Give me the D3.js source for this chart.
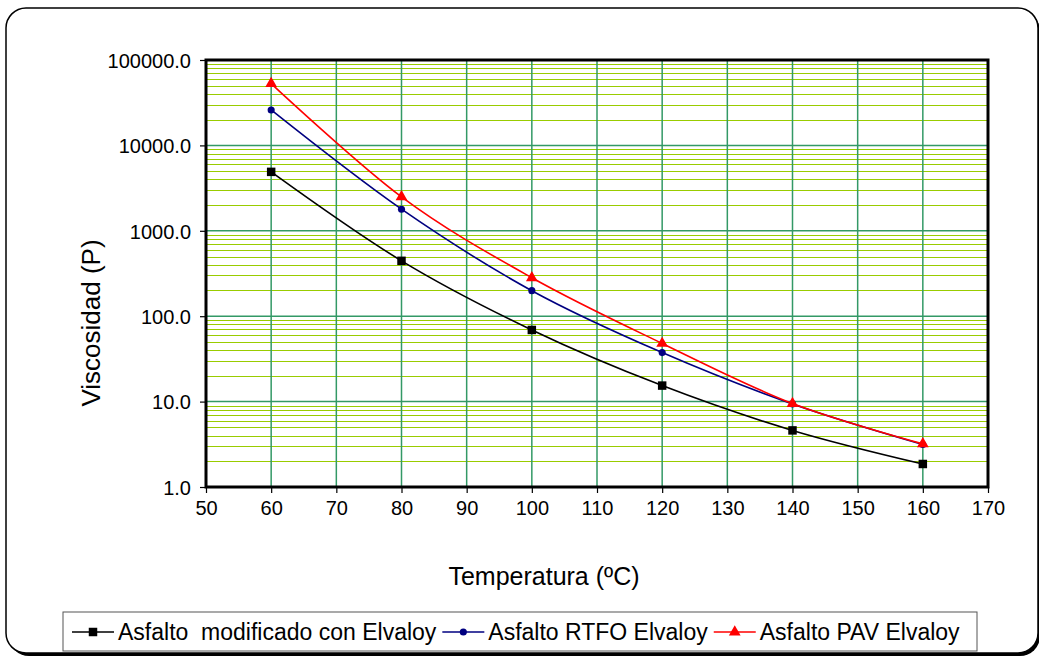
<!DOCTYPE html>
<html>
<head>
<meta charset="utf-8">
<script src="https://cdn.jsdelivr.net/npm/d3@7"></script>
<style>
  body { margin: 0; background: #fff; }
  svg { display: block; font-family: "Liberation Sans", Arial, sans-serif; }
</style>
</head>
<body>
<div id="chart"></div>
<script>
// Temperatures (x) and viscosities (P)
const temps = [60, 80, 100, 120, 140, 160];
const modificado = [4900, 445, 69, 15.4, 4.6, 1.86];
const rtfo = [26000, 1790, 199, 37.5, 9.4, 3.15];
const pav = [53000, 2500, 282, 48, 9.5, 3.2];

const seriesNames = ["Asfalto  modificado con Elvaloy", "Asfalto RTFO Elvaloy", "Asfalto PAV Elvaloy"];
const xTicks = [50, 60, 70, 80, 90, 100, 110, 120, 130, 140, 150, 160, 170];
const yTicks = [1, 10, 100, 1000, 10000, 100000];

const W = 1039, H = 658;
const plot = { left: 206, right: 988, top: 60, bottom: 487 };

const svg = d3.select("#chart").append("svg")
  .attr("width", W)
  .attr("height", H);

// Outer rounded frame with shadow
svg.append("rect")
  .attr("x", 9).attr("y", 11)
  .attr("width", 1031).attr("height", 645)
  .attr("rx", 20)
  .attr("fill", "#000");
svg.append("rect")
  .attr("x", 6).attr("y", 8)
  .attr("width", 1032).attr("height", 645)
  .attr("rx", 20)
  .attr("fill", "#fff")
  .attr("stroke", "#000")
  .attr("stroke-width", 1.5);

// Scales
const x = d3.scaleLinear().domain([50, 170]).range([plot.left, plot.right]);
const y = d3.scaleLog().domain([1, 100000]).range([plot.bottom, plot.top]);

// Minor horizontal gridlines
const minor = [];
yTicks.slice(0, -1).forEach(d => {
  for (let k = 2; k <= 9; k++) minor.push(k * d);
});

const grid = svg.append("g");
grid.selectAll(".minor")
  .data(minor)
  .enter()
  .append("line")
  .attr("x1", plot.left).attr("x2", plot.right)
  .attr("y1", d => Math.round(y(d)) + 0.5)
  .attr("y2", d => Math.round(y(d)) + 0.5)
  .attr("stroke", "#99cc00")
  .attr("stroke-width", 1.2);

grid.selectAll(".majorY")
  .data(yTicks.slice(1, -1))
  .enter()
  .append("line")
  .attr("x1", plot.left).attr("x2", plot.right)
  .attr("y1", d => y(d)).attr("y2", d => y(d))
  .attr("stroke", "#339966")
  .attr("stroke-width", 1.5);

grid.selectAll(".majorX")
  .data(xTicks.slice(1, -1))
  .enter()
  .append("line")
  .attr("y1", plot.top).attr("y2", plot.bottom)
  .attr("x1", d => x(d)).attr("x2", d => x(d))
  .attr("stroke", "#339966")
  .attr("stroke-width", 1.5);

// Axes
const xAxis = svg.append("g")
  .attr("transform", `translate(0, ${plot.bottom})`)
  .call(d3.axisBottom(x).tickValues(xTicks).tickSize(6).tickSizeOuter(0).tickPadding(8));
const yAxis = svg.append("g")
  .attr("transform", `translate(${plot.left}, 0)`)
  .call(d3.axisLeft(y).tickValues(yTicks).tickFormat(d3.format(".1f")).tickSize(6).tickSizeOuter(0).tickPadding(9));

[xAxis, yAxis].forEach(a => {
  a.select(".domain").remove();
  a.selectAll("line").attr("stroke", "#000").attr("stroke-width", 1.2);
  a.selectAll("text")
    .attr("fill", "#000")
    .style("font-size", "20px")
    .style("font-family", "'Liberation Sans', Arial, sans-serif");
});
yAxis.selectAll("text").attr("dy", "0.36em");

// Plot border
svg.append("rect")
  .attr("x", plot.left).attr("y", plot.top)
  .attr("width", plot.right - plot.left)
  .attr("height", plot.bottom - plot.top)
  .attr("fill", "none")
  .attr("stroke", "#000")
  .attr("stroke-width", 3);

// Series
const series = [
  { name: seriesNames[0], values: modificado, color: "#000000", marker: "square" },
  { name: seriesNames[1], values: rtfo, color: "#000080", marker: "diamond" },
  { name: seriesNames[2], values: pav, color: "#ff0000", marker: "triangle" }
];

const symbols = {
  square: d3.symbol().type(d3.symbolSquare).size(72),
  diamond: d3.symbol().type(d3.symbolCircle).size(40),
  triangle: d3.symbol().type(d3.symbolTriangle).size(60)
};

const line = d3.line()
  .x(d => x(d[0]))
  .y(d => y(d[1]))
  .curve(d3.curveCardinal.tension(0));

series.forEach(s => {
  const pts = temps.map((t, i) => [t, s.values[i]]);
  svg.append("path")
    .datum(pts)
    .attr("d", line)
    .attr("fill", "none")
    .attr("stroke", s.color)
    .attr("stroke-width", 1.6);
  svg.selectAll(null)
    .data(pts)
    .enter()
    .append("path")
    .attr("d", symbols[s.marker])
    .attr("transform", d => `translate(${x(d[0])}, ${y(d[1])})`)
    .attr("fill", s.color);
});

// Axis titles
svg.append("text")
  .attr("x", 544)
  .attr("y", 585)
  .attr("text-anchor", "middle")
  .style("font-size", "25px")
  .text("Temperatura (ºC)");

svg.append("text")
  .attr("transform", "rotate(-90)")
  .attr("x", -323)
  .attr("y", 100)
  .attr("text-anchor", "middle")
  .style("font-size", "26px")
  .text("Viscosidad (P)");

// Legend
const legend = svg.append("g");
legend.append("rect")
  .attr("x", 63).attr("y", 612)
  .attr("width", 914).attr("height", 39)
  .attr("fill", "#fff")
  .attr("stroke", "#555")
  .attr("stroke-width", 1);

let lx = 72;
series.forEach(s => {
  legend.append("line")
    .attr("x1", lx).attr("x2", lx + 42)
    .attr("y1", 632).attr("y2", 632)
    .attr("stroke", s.color)
    .attr("stroke-width", 1.6);
  legend.append("path")
    .attr("d", symbols[s.marker])
    .attr("transform", `translate(${lx + 21}, 632)`)
    .attr("fill", s.color);
  const t = legend.append("text")
    .attr("x", lx + 46)
    .attr("y", 640)
    .style("font-size", "23px")
    .style("white-space", "pre")
    .attr("xml:space", "preserve")
    .text(s.name);
  lx += 46 + t.node().getComputedTextLength() + 6;
});
</script>
</body>
</html>
